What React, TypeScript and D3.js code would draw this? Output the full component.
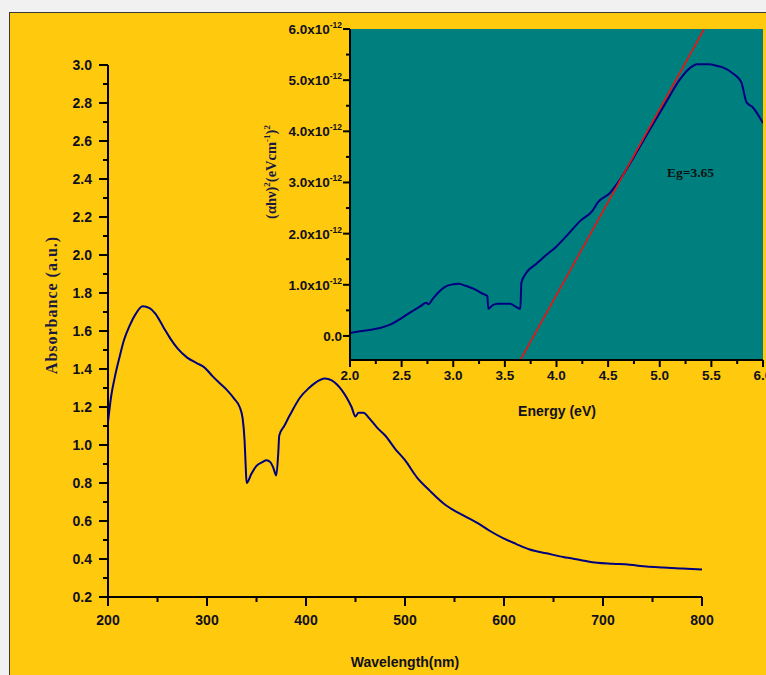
import React from 'react';
import * as d3 from 'd3';

// main spectrum: absorbance vs wavelength
const wavelength = [200, 203, 207, 212, 216, 222, 228, 235, 242, 248, 256, 263, 270, 280, 290, 297, 306, 314, 320, 328, 333, 336, 338, 339, 340, 345, 350, 356, 360, 364, 367, 370, 372, 373, 378, 384, 394, 403, 410, 419, 426, 431, 441, 446, 450, 453, 458, 464, 472, 480, 490, 500, 512, 525, 542, 555, 573, 585, 599, 612, 626, 643, 660, 677, 694, 710, 727, 744, 761, 780, 800];
const absorbance = [1.12, 1.25, 1.36, 1.47, 1.55, 1.63, 1.69, 1.73, 1.72, 1.69, 1.62, 1.56, 1.51, 1.46, 1.43, 1.41, 1.36, 1.32, 1.29, 1.24, 1.2, 1.14, 1.02, 0.9, 0.8, 0.85, 0.89, 0.91, 0.92, 0.91, 0.88, 0.84, 0.96, 1.05, 1.1, 1.16, 1.25, 1.3, 1.33, 1.35, 1.34, 1.32, 1.25, 1.2, 1.15, 1.17, 1.17, 1.14, 1.09, 1.05, 0.98, 0.92, 0.83, 0.76, 0.68, 0.64, 0.59, 0.55, 0.51, 0.48, 0.45, 0.43, 0.41, 0.395, 0.38, 0.375, 0.37, 0.36, 0.355, 0.35, 0.345];

// inset Tauc plot, values in units of 1e-12
const energy = [2.0, 2.1, 2.2, 2.3, 2.4, 2.5, 2.6, 2.68, 2.74, 2.76, 2.8, 2.86, 2.92, 3.0, 3.05, 3.12, 3.2, 3.28, 3.33, 3.34, 3.38, 3.43, 3.55, 3.6, 3.65, 3.66, 3.71, 3.8, 3.87, 4.0, 4.1, 4.23, 4.35, 4.4, 4.52, 4.61, 4.75, 4.9, 5.07, 5.19, 5.3, 5.36, 5.48, 5.55, 5.61, 5.71, 5.79, 5.84, 5.9, 6.0];
const tauc = [0.06, 0.09, 0.12, 0.16, 0.23, 0.35, 0.48, 0.58, 0.65, 0.62, 0.72, 0.86, 0.96, 1.01, 1.02, 0.98, 0.92, 0.83, 0.78, 0.53, 0.6, 0.63, 0.63, 0.58, 0.53, 1.04, 1.24, 1.4, 1.53, 1.75, 1.96, 2.25, 2.45, 2.61, 2.8, 3.04, 3.5, 4.02, 4.6, 5.0, 5.25, 5.31, 5.31, 5.28, 5.25, 5.13, 4.96, 4.57, 4.47, 4.16];

// linear fit (band gap extrapolation)
const fitEnergy = [3.65, 5.43];
const fitTauc = [-0.47, 6.0];

const mainXTicks = [200, 300, 400, 500, 600, 700, 800];
const mainXMinor = [250, 350, 450, 550, 650, 750];
const mainYTicks = [0.2, 0.4, 0.6, 0.8, 1.0, 1.2, 1.4, 1.6, 1.8, 2.0, 2.2, 2.4, 2.6, 2.8, 3.0];
const mainYMinor = [0.3, 0.5, 0.7, 0.9, 1.1, 1.3, 1.5, 1.7, 1.9, 2.1, 2.3, 2.5, 2.7, 2.9];
const insetXTicks = [2.0, 2.5, 3.0, 3.5, 4.0, 4.5, 5.0, 5.5, 6.0];
const insetXMinor = [2.25, 2.75, 3.25, 3.75, 4.25, 4.75, 5.25, 5.75];
const insetYTicks = [0, 1, 2, 3, 4, 5, 6];
const insetYMinor = [0.5, 1.5, 2.5, 3.5, 4.5, 5.5];

const W = 766;
const H = 675;
const gold = '#FFC90E';
const teal = '#007F7F';
const navy = '#00007F';
const ink = '#10101c';
const sans = '"Liberation Sans", Arial, sans-serif';
const serif = '"Liberation Serif", "Times New Roman", serif';

export default function App() {
  const x = d3.scaleLinear().domain([200, 800]).range([108, 702]);
  const y = d3.scaleLinear().domain([0.2, 3.0]).range([597, 65]);
  const ix = d3.scaleLinear().domain([2, 6]).range([350, 763]);
  const iy = d3.scaleLinear().domain([-0.47, 6]).range([360, 29]);

  const mainLine = d3.line<number>()
    .x((_, i) => x(wavelength[i]))
    .y(d => y(d))
    .curve(d3.curveMonotoneX);
  const insetLine = d3.line<number>()
    .x((_, i) => ix(energy[i]))
    .y(d => iy(d))
    .curve(d3.curveMonotoneX);
  const fitLine = d3.line<number>()
    .x((_, i) => ix(fitEnergy[i]))
    .y(d => iy(d));

  const fmt = d3.format('.1f');

  return (
    <svg width={W} height={H} style={{ position: 'absolute', left: 0, top: 0, display: 'block' }}>
      <rect x={0} y={0} width={W} height={H} fill="#f1f1f1" />
      <rect x={9.5} y={12.5} width={W + 20} height={H + 20} fill={gold} stroke="#3a3a3a" strokeWidth={1} />

      {/* main axes */}
      <g stroke="#000" strokeWidth={2}>
        <line x1={x(200)} x2={x(800)} y1={y(0.2)} y2={y(0.2)} />
        <line x1={x(200)} x2={x(200)} y1={y(0.2)} y2={y(3.0)} />
        {mainXTicks.map(t => <line key={'mx' + t} x1={x(t)} x2={x(t)} y1={y(0.2)} y2={y(0.2) + 9} />)}
        {mainXMinor.map(t => <line key={'mxm' + t} x1={x(t)} x2={x(t)} y1={y(0.2)} y2={y(0.2) + 5} />)}
        {mainYTicks.map(t => <line key={'my' + t} x1={x(200) - 9} x2={x(200)} y1={y(t)} y2={y(t)} />)}
        {mainYMinor.map(t => <line key={'mym' + t} x1={x(200) - 5} x2={x(200)} y1={y(t)} y2={y(t)} />)}
      </g>
      <g fontFamily={sans} fontWeight="bold" fontSize={14} fill={ink}>
        {mainXTicks.map(t => (
          <text key={'mxl' + t} x={x(t)} y={y(0.2) + 28} textAnchor="middle">{t}</text>
        ))}
        {mainYTicks.map(t => (
          <text key={'myl' + t} x={x(200) - 16} y={y(t) + 5} textAnchor="end">{fmt(t)}</text>
        ))}
        <text x={405} y={667} textAnchor="middle">Wavelength(nm)</text>
      </g>
      <text transform="translate(57,305) rotate(-90)" textAnchor="middle" fontFamily={serif} fontWeight="bold" fontSize={16} letterSpacing={1} fill="#1a1a40">Absorbance (a.u.)</text>

      <path d={mainLine(absorbance) || ''} fill="none" stroke={navy} strokeWidth={2} />

      {/* inset */}
      <defs>
        <clipPath id="insetClip">
          <rect x={ix(2)} y={iy(6)} width={ix(6) - ix(2)} height={iy(-0.47) - iy(6)} />
        </clipPath>
      </defs>
      <rect x={ix(2)} y={iy(6)} width={ix(6) - ix(2)} height={iy(-0.47) - iy(6)} fill={teal} />
      <g clipPath="url(#insetClip)">
        <path d={insetLine(tauc) || ''} fill="none" stroke={navy} strokeWidth={2} />
        <path d={fitLine(fitTauc) || ''} fill="none" stroke="#ee1111" strokeWidth={1.6} />
      </g>
      <g stroke="#000" strokeWidth={2}>
        <line x1={ix(2)} x2={ix(6)} y1={iy(-0.47)} y2={iy(-0.47)} />
        <line x1={ix(2)} x2={ix(2)} y1={iy(-0.47)} y2={iy(6)} />
        {insetXTicks.map(t => <line key={'ix' + t} x1={ix(t)} x2={ix(t)} y1={iy(-0.47)} y2={iy(-0.47) + 7} />)}
        {insetXMinor.map(t => <line key={'ixm' + t} x1={ix(t)} x2={ix(t)} y1={iy(-0.47)} y2={iy(-0.47) + 4} />)}
        {insetYTicks.map(t => <line key={'iy' + t} x1={ix(2) - 7} x2={ix(2)} y1={iy(t)} y2={iy(t)} />)}
        {insetYMinor.map(t => <line key={'iym' + t} x1={ix(2) - 4} x2={ix(2)} y1={iy(t)} y2={iy(t)} />)}
      </g>
      <g fontFamily={sans} fontWeight="bold" fontSize={13.5} fill={ink}>
        {insetXTicks.map(t => (
          <text key={'ixl' + t} x={ix(t)} y={iy(-0.47) + 20} textAnchor="middle">{fmt(t)}</text>
        ))}
        {insetYTicks.map(t => (
          <text key={'iyl' + t} x={ix(2) - 8} y={iy(t) + 5} textAnchor="end">
            {t === 0 ? '0.0' : <>{fmt(t)}x10<tspan fontSize={8.5} dy={-6}>-12</tspan></>}
          </text>
        ))}
        <text x={557} y={416} textAnchor="middle" fontSize={14}>Energy (eV)</text>
      </g>
      <text transform="translate(276,172) rotate(-90)" textAnchor="middle" fontFamily={serif} fontWeight="bold" fontSize={14.5} fill="#1a1a40">
        (αhν)<tspan fontSize={9} dy={-6}>2</tspan><tspan dy={6}>(eVcm</tspan><tspan fontSize={9} dy={-6}>-1</tspan><tspan dy={6}>)</tspan><tspan fontSize={9} dy={-6}>2</tspan>
      </text>
      <text x={667} y={177} fontFamily={serif} fontWeight="bold" fontSize={13.5} fill="#111">Eg=3.65</text>
    </svg>
  );
}
